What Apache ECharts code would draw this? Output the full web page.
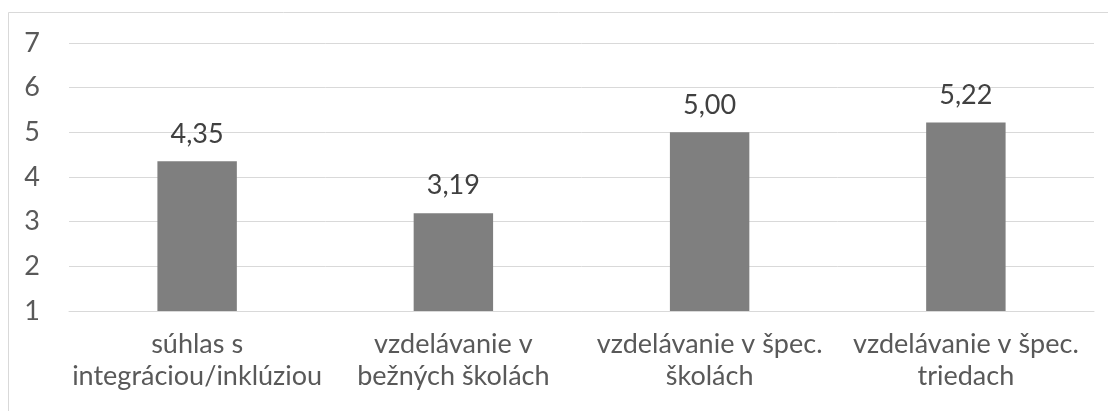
<!DOCTYPE html>
<html>
<head>
<meta charset="utf-8">
<script src="https://cdn.jsdelivr.net/npm/echarts@6/dist/echarts.min.js"></script>
<style>
html,body{margin:0;padding:0;background:#fff;}
#c{width:1108px;height:411px;}
</style>
</head>
<body>
<div id="c"></div>
<script>
var categories = ['súhlas s\nintegráciou/inklúziou', 'vzdelávanie v\nbežných školách', 'vzdelávanie v špec.\nškolách', 'vzdelávanie v špec.\ntriedach'];
var values = [4.35, 3.19, 5.00, 5.22];
var yTicks = [1, 2, 3, 4, 5, 6, 7];

var FONT = 'Lato';
var chart = echarts.init(document.getElementById('c'), null, {renderer: 'canvas'});
chart.setOption({
  animation: false,
  backgroundColor: '#fff',
  graphic: [{
    type: 'rect',
    shape: {x: 8.5, y: 12.5, width: 1120, height: 420},
    style: {fill: 'none', stroke: '#d9d9d9', lineWidth: 1},
    silent: true
  }],
  grid: {left: 69, right: 14, top: 43, bottom: 100, containLabel: false},
  xAxis: {
    type: 'category',
    data: categories,
    axisLine: {show: true, lineStyle: {color: '#d9d9d9', width: 1}},
    axisTick: {show: false},
    axisLabel: {
      color: '#595959', fontFamily: FONT, fontSize: 27, lineHeight: 32,
      margin: 17, interval: 0
    }
  },
  yAxis: {
    type: 'value',
    min: yTicks[0],
    max: yTicks[yTicks.length - 1],
    interval: 1,
    axisLine: {show: false},
    axisTick: {show: false},
    splitLine: {lineStyle: {color: '#d9d9d9', width: 1}},
    axisLabel: {color: '#595959', fontFamily: FONT, fontSize: 27, margin: 29}
  },
  series: [{
    type: 'bar',
    data: values,
    barWidth: '31%',
    itemStyle: {color: '#7f7f7f'},
    label: {
      show: true, position: 'top', distance: 14,
      color: '#404040', fontFamily: FONT, fontSize: 27,
      formatter: function (p) { return p.value.toFixed(2).replace('.', ','); }
    }
  }]
});
</script>
</body>
</html>
